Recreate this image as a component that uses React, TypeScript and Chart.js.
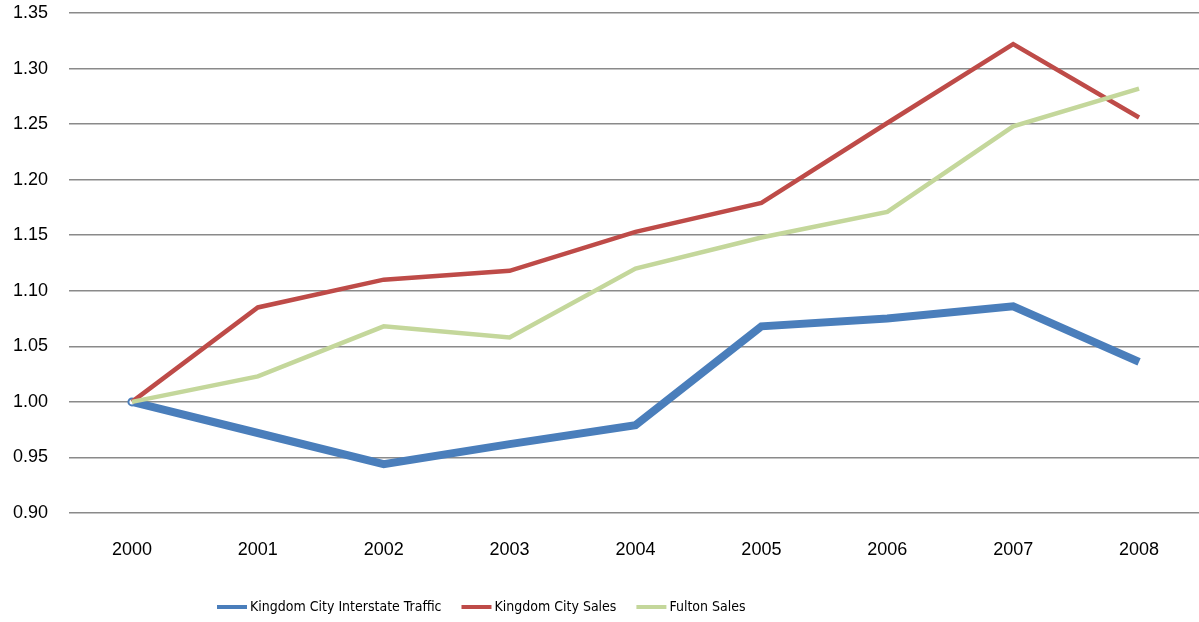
import React, { useEffect, useRef } from "react";
import { Chart, registerables } from "chart.js";

Chart.register(...registerables);

const years = ["2000", "2001", "2002", "2003", "2004", "2005", "2006", "2007", "2008"];
const interstateTraffic = [1.0, 0.972, 0.944, 0.962, 0.979, 1.068, 1.075, 1.086, 1.036];
const kingdomCitySales = [1.0, 1.085, 1.11, 1.118, 1.153, 1.179, 1.251, 1.322, 1.256];
const fultonSales = [1.0, 1.023, 1.068, 1.058, 1.12, 1.148, 1.171, 1.248, 1.282];
const seriesNames = ["Kingdom City Interstate Traffic", "Kingdom City Sales", "Fulton Sales"];

const BLUE = "#4a7ebb";
const RED = "#be4b48";
const GREEN = "#c4d79b";

const FONT = "'Liberation Sans', Arial, sans-serif";
const LEGEND_FONT = "'Liberation Sans Narrow', 'DejaVu Sans Condensed', 'Liberation Sans', sans-serif";

const legendPlugin = {
  id: "customBottomLegend",
  afterDraw(chart: any) {
    const ctx = chart.ctx;
    ctx.save();
    ctx.font = `14px ${LEGEND_FONT}`;
    ctx.textBaseline = "middle";
    ctx.textAlign = "left";
    const y = 607;
    let x = 217;
    chart.data.datasets.forEach((ds: any) => {
      ctx.strokeStyle = ds.borderColor;
      ctx.lineWidth = 4;
      ctx.lineCap = "butt";
      ctx.beginPath();
      ctx.moveTo(x, y);
      ctx.lineTo(x + 30, y);
      ctx.stroke();
      x += 33;
      ctx.fillStyle = "#000";
      ctx.fillText(ds.label, x, y);
      x += ctx.measureText(ds.label).width + 20;
    });
    ctx.restore();
  },
};

export default function App() {
  const canvasRef = useRef<HTMLCanvasElement | null>(null);

  useEffect(() => {
    if (!canvasRef.current) return;
    const chart = new Chart(canvasRef.current, {
      type: "line",
      data: {
        labels: years,
        datasets: [
          {
            label: seriesNames[0],
            data: interstateTraffic,
            borderColor: BLUE,
            backgroundColor: "#ffffff",
            borderWidth: 8,
            pointRadius: [3.5, 0, 0, 0, 0, 0, 0, 0, 0],
            pointBorderWidth: 2,
            pointBorderColor: BLUE,
            pointBackgroundColor: "#ffffff",
            tension: 0,
            order: 3,
          },
          {
            label: seriesNames[1],
            data: kingdomCitySales,
            borderColor: RED,
            backgroundColor: RED,
            borderWidth: 4.5,
            pointRadius: 0,
            tension: 0,
            order: 2,
          },
          {
            label: seriesNames[2],
            data: fultonSales,
            borderColor: GREEN,
            backgroundColor: GREEN,
            borderWidth: 4.5,
            pointRadius: 0,
            tension: 0,
            order: 1,
          },
        ],
      },
      options: {
        responsive: false,
        maintainAspectRatio: false,
        animation: false,
        layout: { padding: { left: 13, right: 0, top: 0, bottom: 61 } },
        plugins: {
          legend: { display: false },
          tooltip: { enabled: false },
          title: { display: false },
        },
        scales: {
          x: {
            type: "category",
            offset: true,
            grid: { display: false, drawTicks: false },
            border: { display: false },
            ticks: {
              color: "#000",
              font: { family: FONT, size: 18 },
              padding: 26,
              maxRotation: 0,
              autoSkip: false,
            },
            afterFit: (scale: any) => {
              scale.height = 48;
              scale.paddingLeft = 0;
              scale.paddingRight = 0;
            },
          },
          y: {
            min: 0.9,
            max: 1.35,
            grid: { color: "#8a8a8a", lineWidth: 1.5, drawTicks: false },
            border: { display: false },
            ticks: {
              stepSize: 0.05,
              color: "#000",
              font: { family: FONT, size: 18 },
              padding: 21,
              callback: (v: any) => Number(v).toFixed(2),
            },
            afterFit: (scale: any) => {
              scale.width = 56;
              scale.paddingTop = 13;
              scale.paddingBottom = 0;
            },
          },
        },
      },
      plugins: [legendPlugin],
    });
    return () => chart.destroy();
  }, []);

  return (
    <div
      style={{
        position: "fixed",
        left: 0,
        top: 0,
        width: 1199,
        height: 622,
        overflow: "hidden",
        background: "#fff",
      }}
    >
      <canvas ref={canvasRef} width={1208} height={622} style={{ display: "block" }} />
    </div>
  );
}
